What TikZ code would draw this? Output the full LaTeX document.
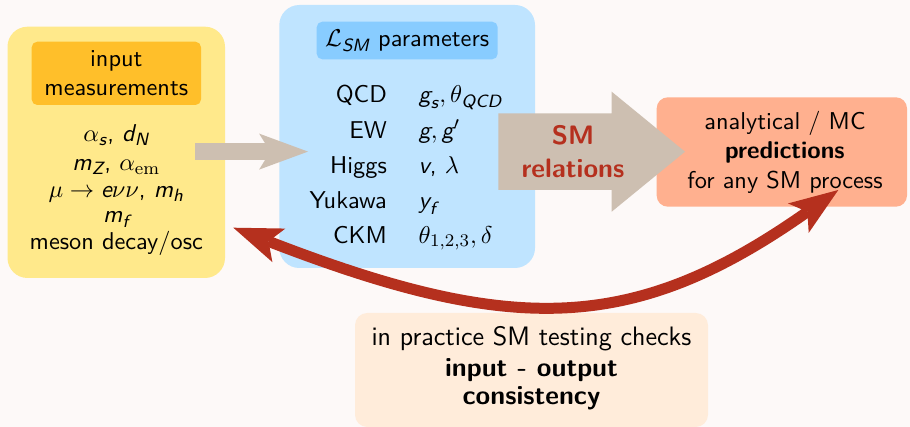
\documentclass[tikz,border=0pt]{standalone}
\usepackage{fontspec}
\usepackage{amsmath}
\usetikzlibrary{arrows.meta}

\definecolor{paper}{HTML}{FDF9F8}
\definecolor{inputfill}{HTML}{FFE98B}
\definecolor{inputhead}{HTML}{FFBF2A}
\definecolor{paramfill}{HTML}{BFE4FF}
\definecolor{paramhead}{HTML}{88CCFF}
\definecolor{relgray}{HTML}{CDBFB1}
\definecolor{smred}{HTML}{B5301E}
\definecolor{predfill}{HTML}{FFB08F}
\definecolor{checkfill}{HTML}{FFECDA}

% sans italic letters inside math
\newcommand\sv[1]{\text{\sffamily\itshape #1}}
% one drawing unit
\newcommand\pxu{0.45pt}

\tikzset{
  panel/.style={rectangle, inner sep=0pt, rounded corners=9pt},
  txt/.style={anchor=base, inner sep=0pt},
  txtlarge/.style={txt, font=\sffamily\fontsize{12}{14}\selectfont},
  bigtip/.style={-{Stealth[length=22pt, width=16.2pt, inset=5pt, line width=0pt]}},
  twotips/.style={{Stealth[length=22pt, width=16.2pt, inset=5pt, line width=0pt]}-{Stealth[length=22pt, width=16.2pt, inset=5pt, line width=0pt]}}
}

\begin{document}
\begin{tikzpicture}[x=\pxu, y=-\pxu, font=\sffamily\fontsize{10.95}{13.6}\selectfont]
  % page
  \fill[paper] (0,0) rectangle (910,427);
  \useasboundingbox (0,0) rectangle (910,427);

  % panels
  \node[panel, fill=inputfill, minimum width=217.5*\pxu, minimum height=251.3*\pxu] (inbox) at (116.25,152.35) {};
  \node[panel, fill=inputhead, rounded corners=2.5pt, minimum width=169.3*\pxu, minimum height=63.3*\pxu] (intitle) at (116.35,73.35) {};
  \node[panel, fill=paramfill, minimum width=255.7*\pxu, minimum height=263*\pxu] (parbox) at (407.15,136.5) {};
  \node[panel, fill=paramhead, rounded corners=2.5pt, minimum width=181*\pxu, minimum height=37.6*\pxu] (partitle) at (407.2,40.5) {};
  \node[panel, fill=predfill, rounded corners=5pt, minimum width=250.3*\pxu, minimum height=109.4*\pxu] (predbox) at (781.85,152) {};
  \node[panel, fill=checkfill, rounded corners=5.5pt, minimum width=353*\pxu, minimum height=114*\pxu] (checkbox) at (531.5,370) {};

  % input measurements
  \node[txt] (in1) at (116.3,66.7) {input};
  \node[txt] (in2) at (116.3,96) {measurements};
  \node[txt] (m1) at (116.3,141.7) {$\alpha_{\sv{s}}$, $\sv{d}_{\sv{N}}$};
  \node[txt] (m2) at (116.3,170.7) {$\sv{m}_{\sv{Z}}$, $\alpha_{\mathrm{em}}$};
  \node[txt] (m3) at (116.3,198) {$\mu\rightarrow\sv{e}\nu\nu$, $\sv{m}_{\sv{h}}$};
  \node[txt] (m4) at (116.3,223) {$\sv{m}_{\sv{f}}$};
  \node[txt] (m5) at (116.3,250) {meson decay/osc};

  % Lagrangian parameters
  \node[txt] (pt) at (407.2,46.7) {$\mathcal{L}_{\sv{SM}}$ parameters};
  \node[txt, anchor=base east] (s1) at (387.3,102.7) {QCD};
  \node[txt, anchor=base east] (s2) at (387.3,138.3) {EW};
  \node[txt, anchor=base east] (s3) at (387.3,173.3) {Higgs};
  \node[txt, anchor=base east] (s4) at (387.3,208.3) {Yukawa};
  \node[txt, anchor=base east] (s5) at (387.3,243.3) {CKM};
  \node[txt, anchor=base west] (v1) at (418.3,102.7) {$\sv{g}_{\sv{s}},\theta_{\sv{QCD}}$};
  \node[txt, anchor=base west] (v2) at (418.3,138.3) {$\sv{g},\sv{g}'$};
  \node[txt, anchor=base west] (v3) at (418.3,173.3) {$\sv{v}$, $\lambda$};
  \node[txt, anchor=base west] (v4) at (418.3,208.3) {$\sv{y}_{\sv{f}}$};
  \node[txt, anchor=base west] (v5) at (418.3,243.3) {$\theta_{1,2,3},\delta$};

  % predictions
  \node[txt] (p1) at (785,130) {analytical / MC};
  \node[txt] (p2) at (785,158.3) {\bfseries predictions};
  \node[txt] (p3) at (785,188.3) {for any SM process};

  % consistency check
  \node[txtlarge] (c1) at (531.5,345) {in practice SM testing checks};
  \node[txtlarge] (c2) at (531.5,376.7) {\bfseries input - output};
  \node[txtlarge] (c3) at (531.5,405) {\bfseries consistency};

  % inputs feed the parameters
  \coordinate (fs) at (195,151.6);
  \coordinate (fe) at (308,151.6);
  \draw[relgray, line width=16.7*\pxu, bigtip] (fs) -- (fe);

  % SM relations block arrow
  \fill[relgray] (498.3,113.3) -- (611.7,113.3) -- (611.7,91.7) -- (685,151.7)
     -- (611.7,211.7) -- (611.7,190) -- (498.3,190) -- cycle;
  \node[txtlarge, text=smred] (r1) at (573,145) {\bfseries SM};
  \node[txtlarge, text=smred] (r2) at (573,177.3) {\bfseries relations};

  % input-output consistency loop
  \coordinate (lt) at (233.3,227.7);
  \coordinate (rt) at (838.3,190);
  \draw[smred, line width=11*\pxu, twotips]
    (lt) .. controls (513,336) and (634,334) .. (rt);
\end{tikzpicture}
\end{document}
